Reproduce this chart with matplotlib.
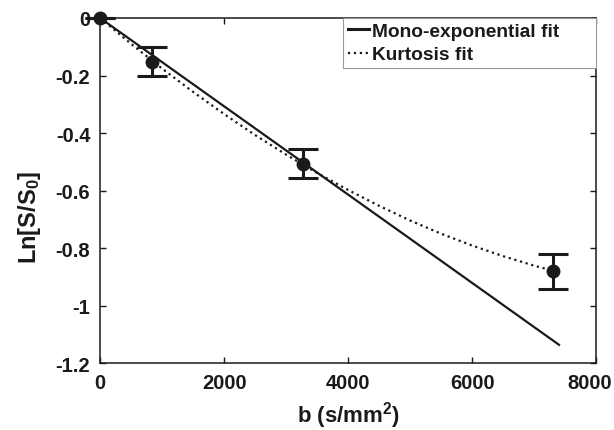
"""
Diffusion signal decay with mono-exponential and kurtosis fits.

Output:
    out.png
"""
import matplotlib.pyplot as plt
from matplotlib.transforms import ScaledTranslation

# Measured points
B_VALUES = [0, 840, 3270, 7310]
LN_SIGNAL = [0.0, -0.152, -0.507, -0.880]
LN_SIGNAL_ERR = [0.0, 0.051, 0.051, 0.061]

# Mono-exponential fit (straight line in log space)
MONO_B = [0, 7400]
MONO_LN = [0.0, -1.136]

# Kurtosis fit
KURT_B = [0, 500, 1000, 1500, 2000, 2500, 3000, 3500, 4000, 4500,
          5000, 5500, 6000, 6500, 7000, 7310]
KURT_LN = [0.0, -0.090, -0.176, -0.257, -0.334, -0.407, -0.475, -0.539,
           -0.598, -0.653, -0.704, -0.750, -0.791, -0.828, -0.861, -0.879]

X_TICKS = [0, 2000, 4000, 6000, 8000]
Y_TICKS = [0, -0.2, -0.4, -0.6, -0.8, -1, -1.2]
Y_TICK_LABELS = ["0", "-0.2", "-0.4", "-0.6", "-0.8", "-1", "-1.2"]

INK = "#1a1a1a"

plt.rcParams["font.family"] = ["Liberation Sans", "DejaVu Sans"]
plt.rcParams["font.weight"] = "bold"
plt.rcParams["mathtext.fontset"] = "custom"
plt.rcParams["mathtext.rm"] = "Liberation Sans:bold"
plt.rcParams["mathtext.it"] = "Liberation Sans:bold"
plt.rcParams["mathtext.bf"] = "Liberation Sans:bold"

fig = plt.figure(figsize=(6.14, 4.31), dpi=100)
ax = fig.add_axes([0.163, 0.155, 0.808, 0.801])

line_mono, = ax.plot(MONO_B, MONO_LN, "-", color=INK, lw=1.6,
                     label="Mono-exponential fit")
line_kurt, = ax.plot(KURT_B, KURT_LN, ":", color=INK, lw=1.6,
                     label="Kurtosis fit")
eb = ax.errorbar(B_VALUES, LN_SIGNAL, yerr=LN_SIGNAL_ERR, fmt="o", color=INK,
                 ms=9, elinewidth=2.2, capsize=10.5, capthick=2.2, zorder=5)
# markers and caps at b=0 hang over the axes edge in the original
eb[0].set_clip_on(False)
for cap in eb[1]:
    cap.set_clip_on(False)
for bar in eb[2]:
    bar.set_clip_on(False)

ax.set_xlim(0, 8000)
ax.set_ylim(-1.2, 0)
ax.set_xticks(X_TICKS)
ax.set_yticks(Y_TICKS)
ax.set_yticklabels(Y_TICK_LABELS)
ax.tick_params(direction="in", length=4, width=1, top=True, right=True,
               labelsize=14.5, colors=INK, pad=7)
for side in ax.spines.values():
    side.set_linewidth(1.1)
    side.set_color(INK)

# last x label sits a bit left of its tick, as in the original export
last = ax.get_xticklabels()[-1]
last.set_transform(last.get_transform()
                   + ScaledTranslation(-7 / 100, 0, fig.dpi_scale_trans))

ax.set_xlabel("b (s/mm$^2$)", fontsize=16, fontweight="bold", color=INK)
ax.xaxis.set_label_coords(0.5, -0.104)
ax.set_ylabel("Ln[S/S$_0$]", fontsize=17, fontweight="bold", color=INK)
ax.yaxis.set_label_coords(-0.115, 0.426)

leg = ax.legend(handles=[line_mono, line_kurt], loc="upper left",
                bbox_to_anchor=(0.49, 0.0, 0.51, 1.0), mode="expand",
                fontsize=13.8, frameon=True,
                fancybox=False, edgecolor="#999999", framealpha=1,
                borderpad=0.25, handlelength=1.1, handletextpad=0.15,
                labelspacing=0.3, borderaxespad=0)
leg.get_frame().set_linewidth(0.8)
leg.get_lines()[0].set_linewidth(2.2)
for txt in leg.get_texts():
    txt.set_color(INK)
    txt.set_fontweight("bold")

fig.savefig("out.png", dpi=100)
